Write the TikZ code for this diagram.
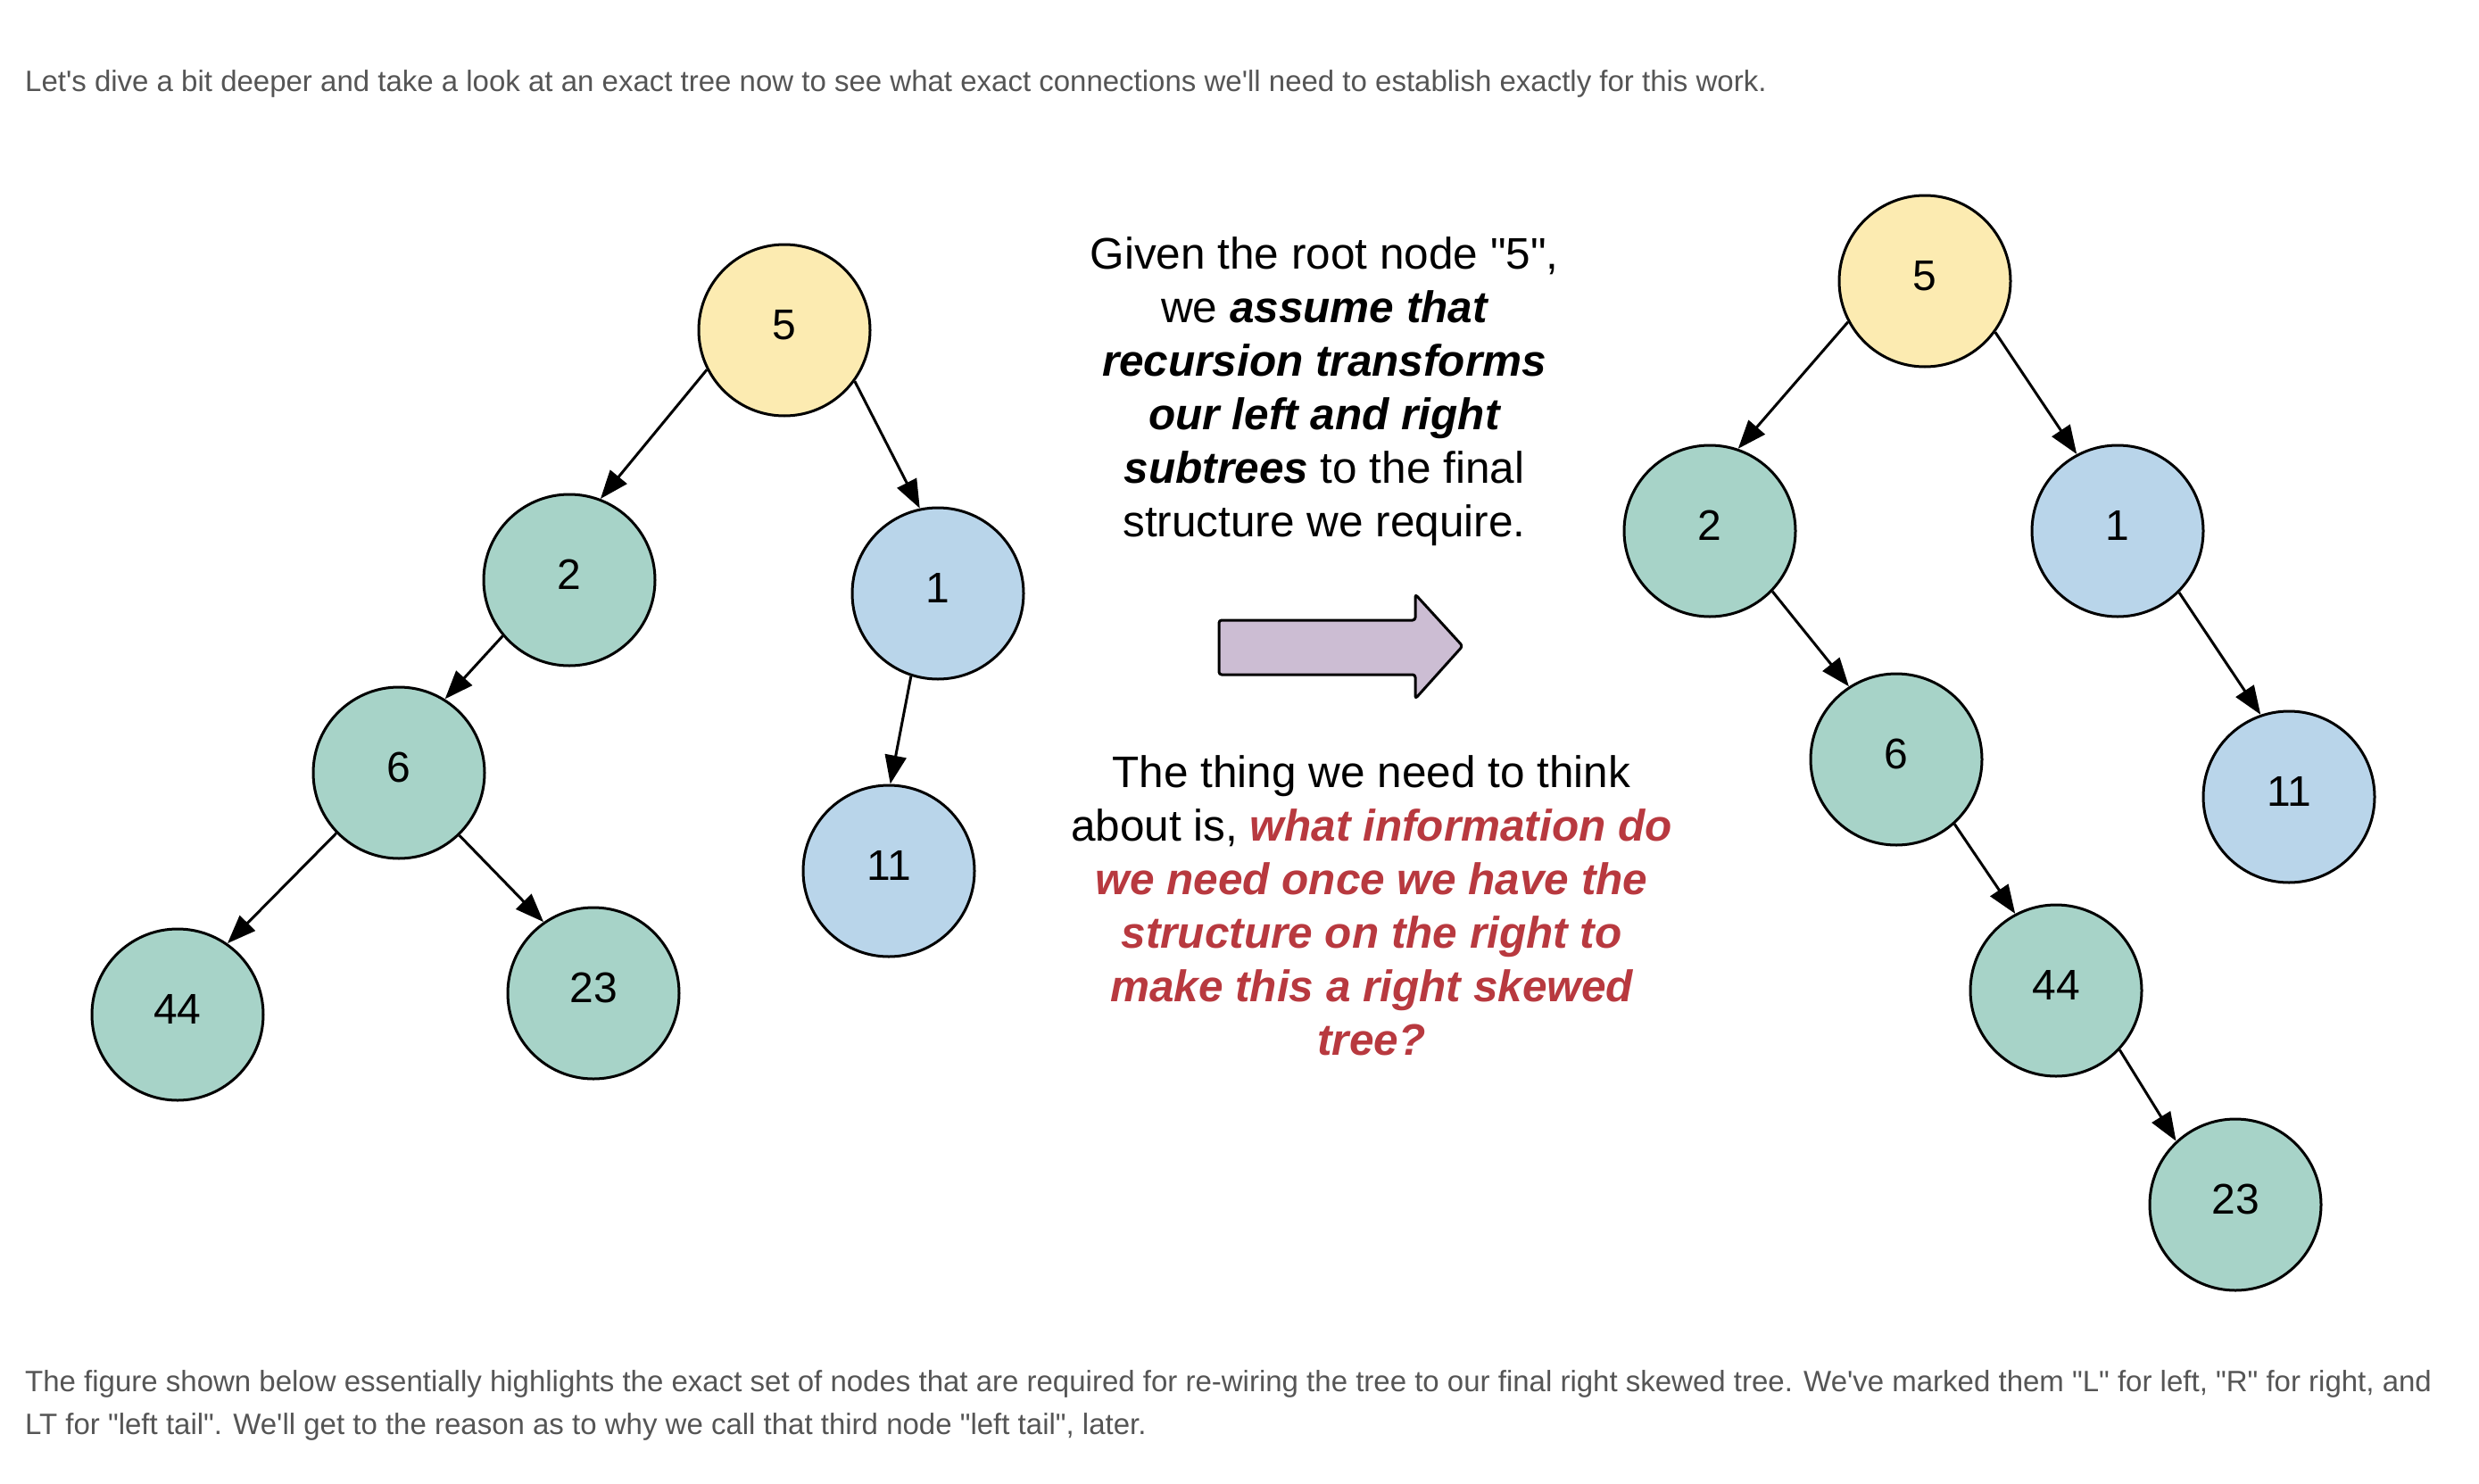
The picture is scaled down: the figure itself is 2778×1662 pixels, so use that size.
\documentclass[tikz,border=0pt]{standalone}
\usepackage{fontspec}
\setmainfont{Liberation Sans}[Ligatures=TeXOff]
\usetikzlibrary{arrows.meta}
\definecolor{nyellow}{HTML}{FCEBB1}
\definecolor{ngreen}{HTML}{A7D3C8}
\definecolor{nblue}{HTML}{B9D5EA}
\definecolor{apurple}{HTML}{CCBDD3}
\definecolor{qred}{HTML}{B8393F}
\definecolor{bodygray}{HTML}{555555}
\newcommand\emphbi[1]{{\bfseries\itshape #1}}
\newcommand\redq[1]{{\color{qred}\bfseries\itshape #1}}
\begin{document}
\begin{tikzpicture}[x=1pt,y=-1pt,
  tnode/.style={circle, draw=black, line width=3pt, minimum size=192pt, inner sep=0pt, text height=34.4pt, text depth=14pt, font=\fontsize{48}{58}\selectfont},
  yel/.style={tnode, fill=nyellow},
  grn/.style={tnode, fill=ngreen},
  blu/.style={tnode, fill=nblue},
  edge/.style={line width=3pt, -{Triangle[length=32pt,width=24pt]}},
  para/.style={anchor=base west, text=bodygray, font=\fontsize{33}{48}\selectfont, inner sep=0pt, align=left},
  mid/.style={anchor=base, align=center, font=\fontsize{49.5}{60}\selectfont, inner sep=0pt}
]
\fill[white] (0,0) rectangle (2778,1662);
\useasboundingbox (0,0) rectangle (2778,1662);

\node[para] (toptext) at (28,102.7) {Let's dive a bit deeper and take a look at an exact tree now to see what exact connections we'll need to establish exactly for this work.};

\node[para] (bottomtext) at (28,1607) {The figure shown below essentially highlights the exact set of nodes that are required for re-wiring the tree to our final right skewed tree. We've marked them "L" for left, "R" for right, and\\LT for "left tail". We'll get to the reason as to why we call that third node "left tail", later.};

% left tree
\node[yel] (l5) at (879,370) {5};
\node[blu] (l1) at (1051,665) {1};
\node[grn] (l2) at (638,650) {2};
\node[grn] (l6) at (447,866) {6};
\node[grn] (l44) at (199,1137) {44};
\node[grn] (l23) at (665,1113) {23};
\node[blu] (l11) at (996,976) {11};

\draw[edge] (l5.207) -- (l2.69);
\draw[edge] (l5.-36) -- (l1.102);
\draw[edge] (l2.220) -- (l6.58);
\draw[edge] (l6.224) -- (l44.55);
\draw[edge] (l6.-46) -- (l23.125);
\draw[edge] (l1.252) -- (l11.89);

% right tree
\node[yel] (r5) at (2157,315) {5};
\node[grn] (r2) at (1916,595) {2};
\node[blu] (r1) at (2373,595) {1};
\node[grn] (r6) at (2125,851) {6};
\node[blu] (r11) at (2565,893) {11};
\node[grn] (r44) at (2304,1110) {44};
\node[grn] (r23) at (2505,1350) {23};

\draw[edge] (r5.208) -- (r2.71);
\draw[edge] (r5.-36) -- (r1.118);
\draw[edge] (r2.-44) -- (r6.123);
\draw[edge] (r1.-45) -- (r11.109);
\draw[edge] (r6.-48) -- (r44.118);
\draw[edge] (r44.-43) -- (r23.133);

% big arrow
\draw[line width=3pt, fill=apurple, rounded corners=3pt, line join=round]
  (1366,695) -- (1586,695) -- (1586,666) -- (1639,724) -- (1586,783) -- (1586,756) -- (1366,756) -- cycle;

% middle texts
\node[mid] (given) at (1484,601) {Given the root node "5",\\we \emphbi{assume that}\\\emphbi{recursion transforms}\\\emphbi{our left and right}\\\emphbi{subtrees} to the final\\structure we require.};

\node[mid] (thing) at (1537,1182) {The thing we need to think\\about is, \redq{what information do}\\\redq{we need once we have the}\\\redq{structure on the right to}\\\redq{make this a right skewed}\\\redq{tree?}};
\end{tikzpicture}
\end{document}
